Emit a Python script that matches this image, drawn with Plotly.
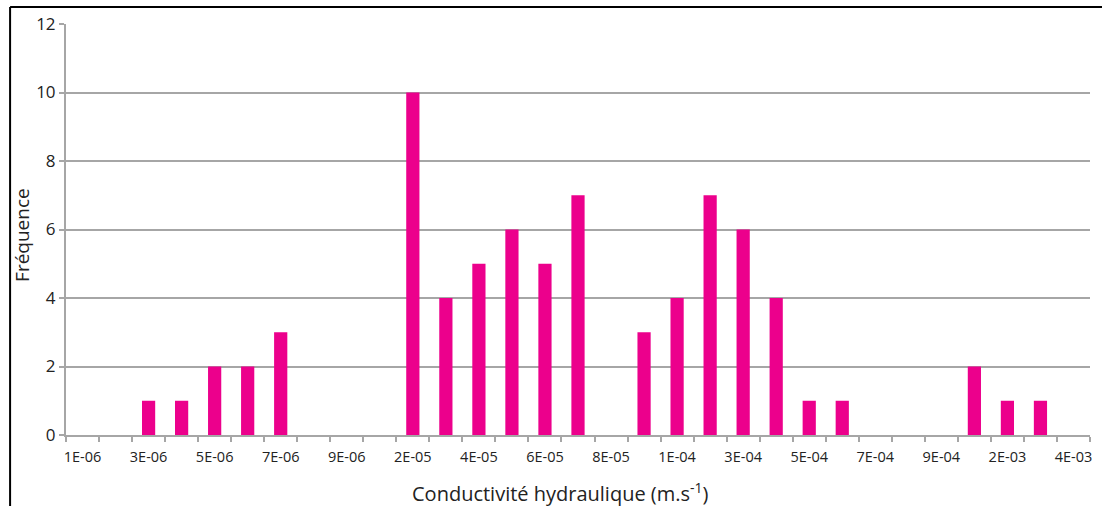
import plotly.graph_objects as go

categories = ["1E-06", "2E-06", "3E-06", "4E-06", "5E-06", "6E-06", "7E-06", "8E-06", "9E-06",
              "1E-05", "2E-05", "3E-05", "4E-05", "5E-05", "6E-05", "7E-05", "8E-05", "9E-05",
              "1E-04", "2E-04", "3E-04", "4E-04", "5E-04", "6E-04", "7E-04", "8E-04", "9E-04",
              "1E-03", "2E-03", "3E-03", "4E-03"]
frequencies = [0, 0, 1, 1, 2, 2, 3, 0, 0,
               0, 10, 4, 5, 6, 5, 7, 0, 3,
               4, 7, 6, 4, 1, 1, 0, 0, 0,
               2, 1, 1, 0]

positions = list(range(len(categories)))
label_positions = positions[::2]
label_texts = categories[::2]

FONT = "Open Sans"
GRID = "#a6a6a6"
TXT = "#222"

fig = go.Figure(go.Bar(x=positions, y=frequencies, marker_color="#EC008C",
                       marker_line_width=0, width=0.4))

fig.update_layout(
    width=1102, height=506,
    margin=dict(l=66, r=10, t=24, b=71),
    plot_bgcolor="white", paper_bgcolor="white",
    font=dict(family=FONT, size=13, color=TXT),
    showlegend=False,
    xaxis=dict(
        range=[-0.5, len(categories) - 0.5],
        tickmode="array", tickvals=label_positions, ticktext=label_texts,
        ticks="", showgrid=False, zeroline=False,
        showline=True, linecolor=GRID, linewidth=2,
        tickfont=dict(size=14.5, family=FONT, color=TXT),
        ticklabelstandoff=8,
        minor=dict(ticks="outside", tick0=-0.5, dtick=1, ticklen=5, tickcolor=GRID, tickwidth=2,
                   showgrid=False),
    ),
    yaxis=dict(
        range=[0, 12], dtick=2, tick0=0,
        showgrid=True, gridcolor=GRID, gridwidth=2,
        zeroline=False, showline=True, linecolor=GRID, linewidth=2,
        ticks="outside", ticklen=5, tickcolor=GRID, tickwidth=2,
        tickfont=dict(size=17, family=FONT, color=TXT),
    ),
    annotations=[
        dict(text="Conductivité hydraulique (m.s<sup>-1</sup>)", xref="paper", yref="paper",
             x=0.483, y=-0.141, xanchor="center", yanchor="middle", showarrow=False,
             font=dict(size=20, family=FONT, color=TXT)),
        dict(text="Fréquence", xref="paper", yref="paper", textangle=-90,
             x=-0.0429, y=0.487, xanchor="center", yanchor="middle", showarrow=False,
             font=dict(size=19, family=FONT, color=TXT)),
    ],
    shapes=[
        dict(type="line", xref="paper", yref="paper", x0=-0.0546, x1=-0.0546, y0=-0.2, y1=1.0414,
             line=dict(color="black", width=2)),
        dict(type="line", xref="paper", yref="paper", x0=-0.0546, x1=1.02, y0=1.0414, y1=1.0414,
             line=dict(color="black", width=2)),
    ],
)

fig.write_html("out.html", config={"displayModeBar": False},
               post_script="document.body.style.margin='0';")
